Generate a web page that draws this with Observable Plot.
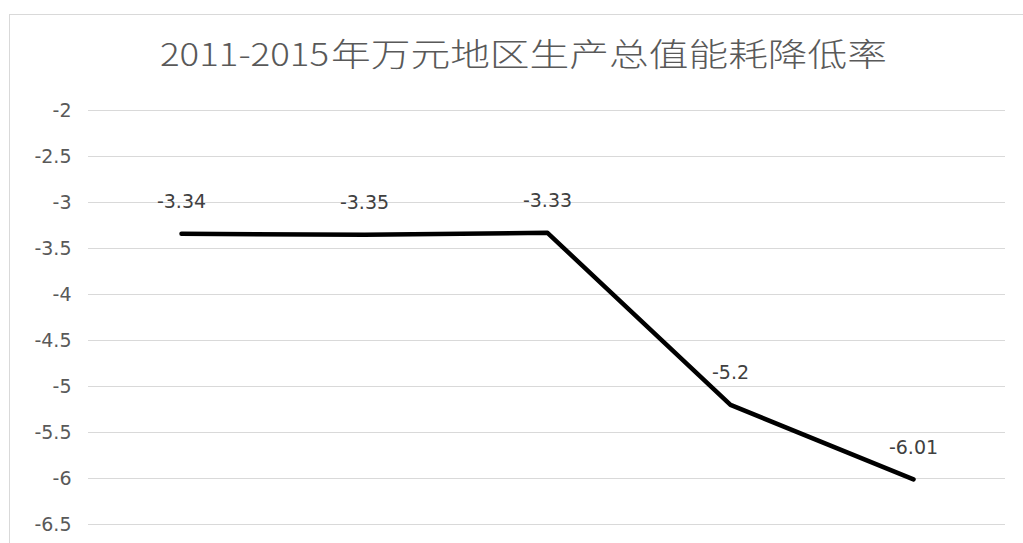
<!DOCTYPE html>
<html><head><meta charset="utf-8">
<script src="https://cdn.jsdelivr.net/npm/d3@7"></script>
<script src="https://cdn.jsdelivr.net/npm/@observablehq/plot@0.6"></script>
<style>
body{margin:0;background:#fff;width:1023px;height:543px;overflow:hidden;position:relative;}
#frame{position:absolute;left:9px;top:14px;width:1100px;height:600px;border-left:1px solid #d9d9d9;border-top:1px solid #d9d9d9;}
#title{position:absolute;left:0;top:0;}
#chart{position:absolute;left:0;top:90px;}
</style>
</head><body>
<div id="frame"></div>
<svg id="title" width="1023" height="90">
  <text y="66" font-family="Noto Sans CJK SC" font-size="32" font-weight="300" fill="#595959">
    <tspan x="160" textLength="169" lengthAdjust="spacingAndGlyphs">2011-2015</tspan><tspan x="331" textLength="556" lengthAdjust="spacingAndGlyphs">年万元地区生产总值能耗降低率</tspan>
  </text>
</svg>
<div id="chart"></div>
<script>
const years = ["2011", "2012", "2013", "2014", "2015"];
const values = [-3.34, -3.35, -3.33, -5.2, -6.01];
const yTicks = [-2, -2.5, -3, -3.5, -4, -4.5, -5, -5.5, -6, -6.5];
const data = years.map((y, i) => ({year: y, value: values[i]}));

const chart = Plot.plot({
  width: 1023, height: 453,
  marginTop: 20, marginBottom: 19, marginLeft: 88, marginRight: 18,
  style: {fontFamily: "DejaVu Sans", fontSize: "18px", color: "#595959", background: "transparent"},
  x: {type: "point", domain: years, padding: 0.5, axis: null},
  y: {domain: [-6.5, -2], axis: null},
  marks: [
    Plot.gridY(yTicks, {stroke: "#d9d9d9", strokeOpacity: 1, strokeWidth: 1}),
    Plot.axisY(yTicks, {tickSize: 0, tickPadding: 17, fill: "#595959", fontSize: 19, label: null, tickFormat: d => String(d), style: {letterSpacing: "1.5px"}}),
    Plot.line(data, {x: "year", y: "value", stroke: "#000", strokeWidth: 4.5, strokeLinejoin: "round", strokeLinecap: "round"}),
    Plot.text(data, {x: "year", y: "value", text: d => String(d.value), dy: -32, fill: "#404040", fontSize: 19, style: {letterSpacing: "1px"}})
  ]
});
document.getElementById("chart").appendChild(chart);
</script>
</body></html>
